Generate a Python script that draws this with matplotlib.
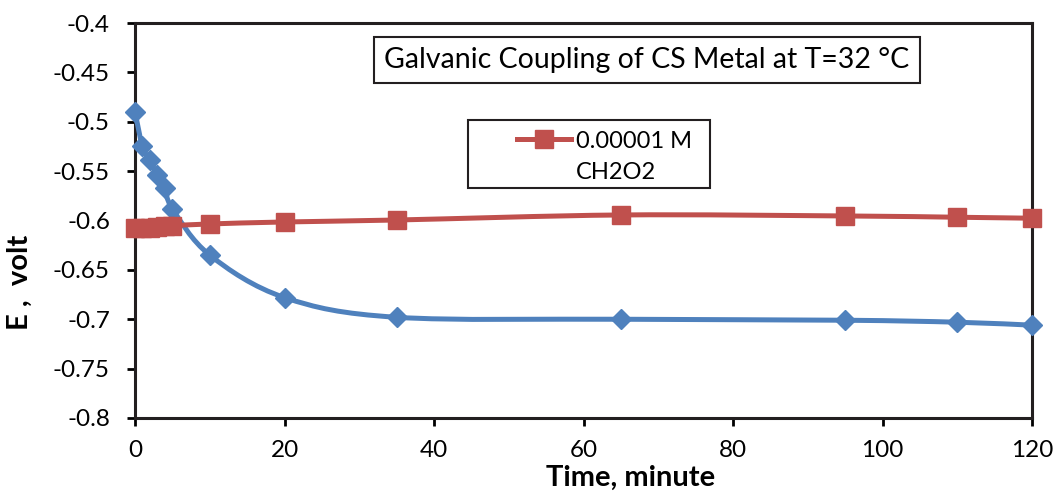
import numpy as np
import matplotlib
matplotlib.use("Agg")
from matplotlib import pyplot as plt
from matplotlib.lines import Line2D
from matplotlib.path import Path
from matplotlib.patches import PathPatch, Rectangle

plt.rcParams['font.family'] = ['Lato', 'DejaVu Sans']

# ── data ────────────────────────────────────────────────────────────────
time_min = [0, 1, 2, 3, 4, 5, 10, 20, 35, 65, 95, 110, 120]
e_blank = [-0.490, -0.525, -0.539, -0.554, -0.567, -0.588, -0.635, -0.678,
           -0.698, -0.700, -0.701, -0.703, -0.706]
e_ch2o2 = [-0.608, -0.608, -0.6075, -0.607, -0.606, -0.6053, -0.6035, -0.6015,
           -0.5995, -0.5944, -0.5954, -0.5967, -0.5977]

x_ticks = [0, 20, 40, 60, 80, 100, 120]
y_ticks = [-0.8, -0.75, -0.7, -0.65, -0.6, -0.55, -0.5, -0.45, -0.4]
y_tick_labels = ['-0.8', '-0.75', '-0.7', '-0.65', '-0.6', '-0.55', '-0.5', '-0.45', '-0.4']

BLUE = '#4F81BD'
RED = '#C0504D'
DARK = '#231f20'
W, H = 1054, 491


def smooth_path(x, y):
    """Excel-style smoothed line: cubic Bezier segments (Catmull-Rom control points)."""
    p = np.column_stack([x, y]).astype(float)
    n = len(p)
    verts = [p[0]]
    codes = [Path.MOVETO]
    for i in range(n - 1):
        p0 = p[i - 1] if i > 0 else p[i]
        p3 = p[i + 2] if i + 2 < n else p[i + 1]
        c1 = p[i] + (p[i + 1] - p0) / 6.0
        c2 = p[i + 1] - (p3 - p[i]) / 6.0
        verts += [c1, c2, p[i + 1]]
        codes += [Path.CURVE4] * 3
    return Path(verts, codes)


fig = plt.figure(figsize=(W / 100, H / 100), dpi=100)
ax = fig.add_axes([135 / W, 1 - 418 / H, 897 / W, 395 / H])

for yv, col, mk, ms in [(e_blank, BLUE, 'D', 10.5), (e_ch2o2, RED, 's', 13.5)]:
    ax.add_patch(PathPatch(smooth_path(time_min, yv), facecolor='none',
                           edgecolor=col, lw=3.6, zorder=3, clip_on=False))
    ax.plot(time_min, yv, linestyle='none', marker=mk, ms=ms, color=col,
            mec=col, zorder=4, clip_on=False)

ax.set_xlim(0, 120)
ax.set_ylim(-0.8, -0.4)
ax.set_xticks(x_ticks)
ax.set_yticks(y_ticks)
ax.set_yticklabels(y_tick_labels)
ax.tick_params(direction='out', length=6, width=2, labelsize=17.5, colors='#000000')
ax.tick_params(axis='x', pad=10)
ax.tick_params(axis='y', pad=12)
for sp in ax.spines.values():
    sp.set_linewidth(2.2)
    sp.set_color(DARK)

ax.set_xlabel('Time, minute', fontsize=21, fontweight='bold')
ax.xaxis.set_label_coords((631 - 135) / 897, (418 - 478) / 395)
ax.xaxis.label.set_va('center')
ax.set_ylabel('E ,  volt', fontsize=21, fontweight='bold')
ax.yaxis.set_label_coords((20 - 135) / 897, (418 - 282) / 395)
ax.yaxis.label.set_va('center')

# title box
fig.text(647 / W, 1 - 60 / H, 'Galvanic Coupling of CS Metal at T=32 °C',
         ha='center', va='center', fontsize=20.5,
         bbox=dict(boxstyle='square,pad=0.36', facecolor='white', edgecolor=DARK, lw=1.5))

# legend: frame drawn separately so the inner padding matches
ax.add_patch(Rectangle((468 / W, 1 - 188 / H), 242 / W, 68 / H,
                       transform=fig.transFigure, facecolor='white',
                       edgecolor=DARK, lw=1.5, zorder=5, clip_on=False))
handles = [Line2D([], [], color=RED, lw=3.6, marker='s', ms=13.5),
           Line2D([], [], linestyle='none')]
leg = ax.legend(handles, ['0.00001 M', 'CH2O2'], loc='upper left',
                bbox_to_anchor=(512 / W, 1 - 126 / H), bbox_transform=fig.transFigure,
                fontsize=17, frameon=False, handlelength=2.3,
                handletextpad=0.2, labelspacing=0.42, borderpad=0.2, borderaxespad=0)
leg.set_zorder(6)

fig.savefig('out.png', dpi=100)
